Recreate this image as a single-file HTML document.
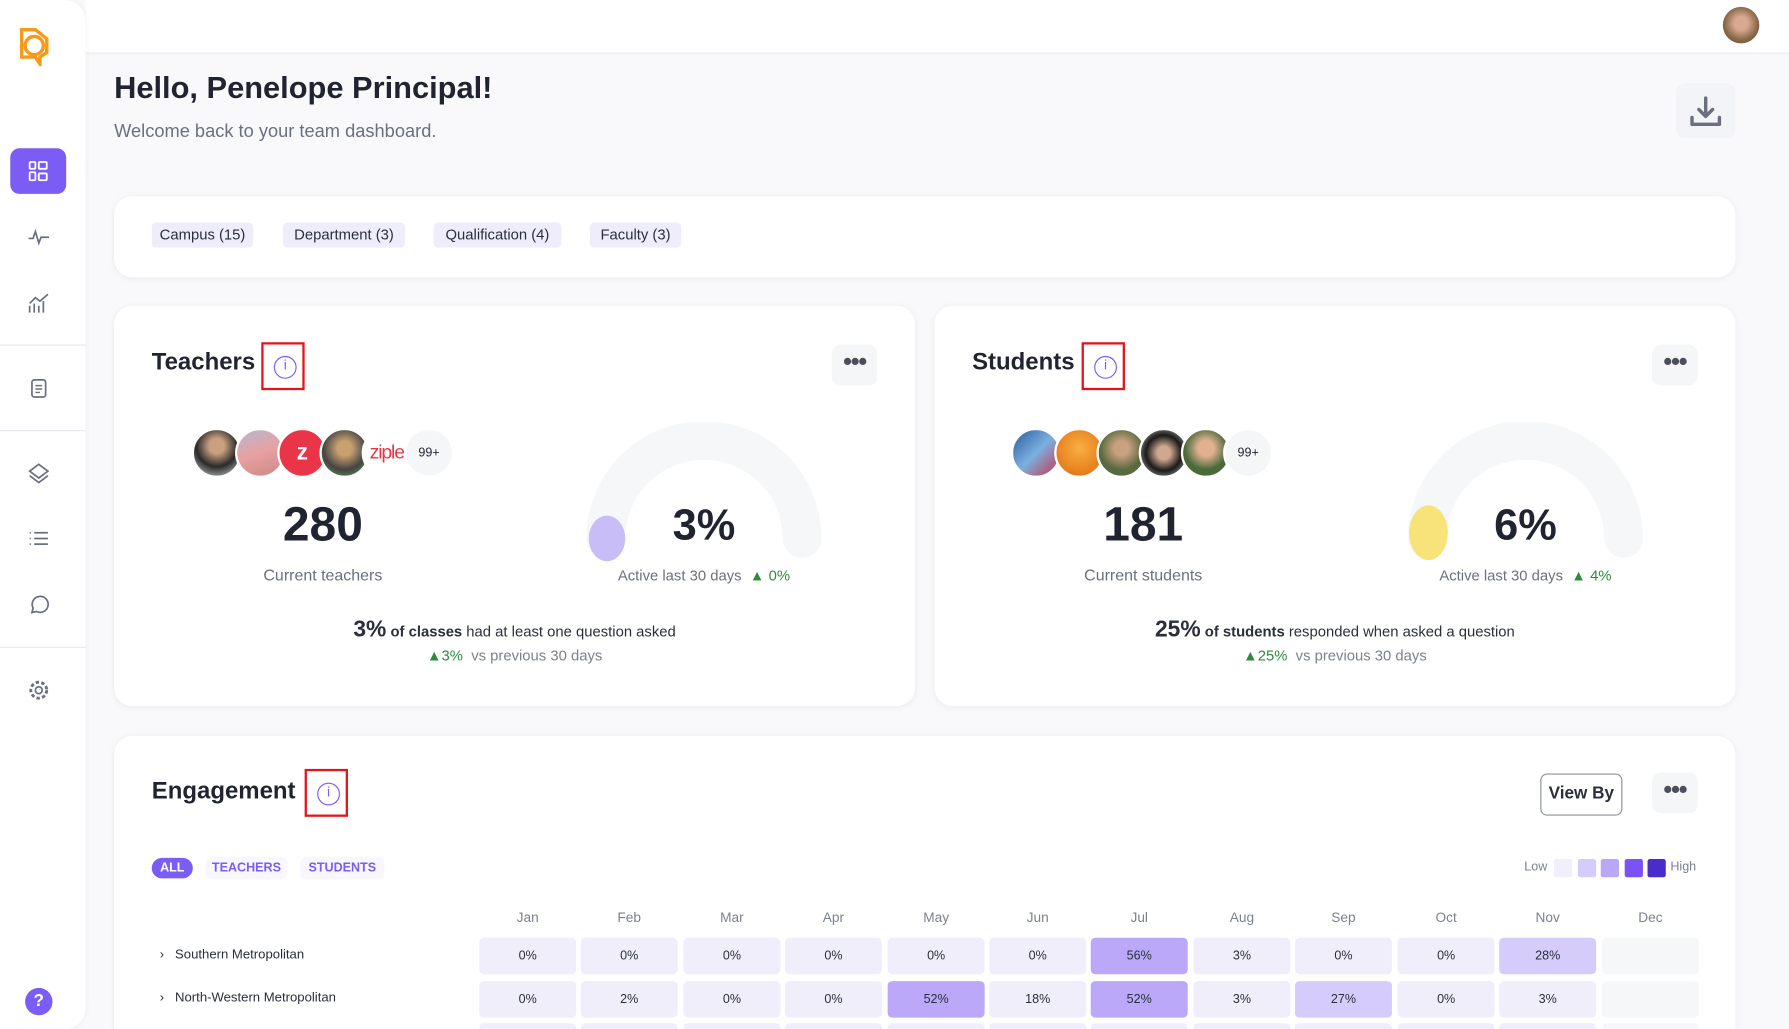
<!DOCTYPE html>
<html><head><meta charset="utf-8"><style>
*{margin:0;padding:0;box-sizing:border-box}
body{width:1789px;height:1029px;overflow:hidden;background:#f9f9fb;font-family:"Liberation Sans",sans-serif;color:#1f2430}
#s{position:absolute;left:0;top:0;width:1568px;height:902px;transform:scale(1.14094,1.1408);transform-origin:0 0;background:#f9f9fb;overflow:hidden}
.a{position:absolute}
.card{position:absolute;background:#fff;border-radius:16px;box-shadow:0 1px 6px rgba(0,0,0,.06)}
.chip{position:absolute;top:195px;height:22px;background:#efedfc;border-radius:4px;font-size:13px;line-height:22px;text-align:center;color:#2a2f3a}
.c{text-align:center}
.t{font-size:21px;font-weight:bold;color:#1f2430}
.info{position:absolute;width:38px;height:42px;border:2px solid #e3141b}
.info:after{content:"i";position:absolute;left:9px;top:10px;width:18px;height:18px;border:1.5px solid #7b5cf5;border-radius:50%;color:#7b5cf5;font-size:12px;line-height:15px;text-align:center}
.dots{position:absolute;width:40px;height:36px;background:#f5f6f8;border-radius:8px;font-size:22px;line-height:30px;text-align:center;color:#4a4f5a;letter-spacing:-1px;font-weight:bold}
.av{position:absolute;width:44px;height:44px;border-radius:50%;border:2px solid #fff}
.g{color:#2e8b3e}
.cell{position:absolute;width:85px;height:32px;border-radius:4px;background:#f1eefc;font-size:11px;line-height:32px;text-align:center;color:#2a2f3a}
.m{position:absolute;top:797px;width:85px;text-align:center;font-size:12px;color:#7c8190}
.ic{position:absolute;left:24px;width:20px;height:20px}
</style></head><body><div id="s">
<div class="a" style="left:75px;top:0;width:1493px;height:47px;background:#fff;border-bottom:1px solid #e6e9ef"></div>
<div class="a" style="left:0;top:0;width:75px;height:902px;background:#fff;border-radius:0 18px 18px 0;box-shadow:1px 0 4px rgba(0,0,0,.04)"></div>
<svg class="a" style="left:15px;top:22px" width="32" height="36" viewBox="0 0 32 36"><path d="M4 4h12l10 8v12l-6 4v6l-4-6H4z" fill="none" stroke="#f59a1a" stroke-width="3"/><circle cx="15" cy="18" r="8" fill="none" stroke="#f59a1a" stroke-width="3"/></svg>
<div class="a" style="left:9px;top:130px;width:49px;height:40px;background:#7b5cf5;border-radius:8px"></div>
<svg class="a" style="left:25px;top:141px" width="17" height="18"><rect x="1" y="1" width="5" height="6" rx="1" fill="none" stroke="#fff" stroke-width="1.6"/><rect x="9" y="1" width="7" height="6" rx="1" fill="none" stroke="#fff" stroke-width="1.6"/><rect x="1" y="10" width="5" height="7" rx="1" fill="none" stroke="#fff" stroke-width="1.6"/><rect x="9" y="11" width="7" height="6" rx="1" fill="none" stroke="#fff" stroke-width="1.6"/></svg>
<svg class="ic" style="top:198px" viewBox="0 0 20 20"><path d="M1 11h4l2-6 3 10 2-5h7" fill="none" stroke="#6b7080" stroke-width="1.5"/></svg>
<svg class="ic" style="top:256px" viewBox="0 0 20 20"><path d="M2 18V12M6 18V10M10 18V12M14 18V8M2 10l5-5 4 3 7-6" fill="none" stroke="#6b7080" stroke-width="1.5"/></svg>
<div class="a" style="left:0;top:302px;width:75px;height:1px;background:#e6e9ef"></div>
<svg class="ic" style="top:330px" viewBox="0 0 20 20"><rect x="4" y="3" width="12" height="15" rx="2" fill="none" stroke="#6b7080" stroke-width="1.5"/><path d="M7 8h6M7 11h6M7 14h4" stroke="#6b7080" stroke-width="1.3"/></svg>
<div class="a" style="left:0;top:377px;width:75px;height:1px;background:#e6e9ef"></div>
<svg class="ic" style="top:405px" viewBox="0 0 20 20"><path d="M10 2l8 6-8 6-8-6zM2 12l8 6 8-6" fill="none" stroke="#6b7080" stroke-width="1.5"/></svg>
<svg class="ic" style="top:462px" viewBox="0 0 20 20"><path d="M6 5h12M6 10h12M6 15h12M2 5h1M2 10h1M2 15h1" stroke="#6b7080" stroke-width="1.5"/></svg>
<svg class="ic" style="top:520px" viewBox="0 0 20 20"><path d="M4 17l1-4a7 7 0 1 1 3 3z" fill="none" stroke="#6b7080" stroke-width="1.5"/></svg>
<div class="a" style="left:0;top:567px;width:75px;height:1px;background:#e6e9ef"></div>
<svg class="ic" style="top:595px" viewBox="0 0 20 20"><circle cx="10" cy="10" r="3" fill="none" stroke="#6b7080" stroke-width="1.5"/><circle cx="10" cy="10" r="7" fill="none" stroke="#6b7080" stroke-width="2.5" stroke-dasharray="3 2"/></svg>
<div class="a c" style="left:22px;top:866px;width:24px;height:24px;border-radius:50%;background:#7b5cf5;color:#fff;font-weight:bold;font-size:15px;line-height:24px">?</div>
<div class="a" style="left:1510px;top:6px;width:32px;height:32px;border-radius:50%;background:radial-gradient(circle at 50% 45%,#d8a890 25%,#8a6a4a 60%,#5a4030)"></div>

<div class="a" style="left:100px;top:62px;font-size:27px;font-weight:bold;color:#1f2430">Hello, Penelope Principal!</div>
<div class="a" style="left:100px;top:107px;font-size:16px;color:#6b7080">Welcome back to your team dashboard.</div>
<div class="a" style="left:1469px;top:73px;width:52px;height:48px;background:#f3f4f7;border-radius:8px"></div>
<svg class="a" style="left:1480px;top:83px" width="30" height="30" viewBox="0 0 30 30"><path d="M15 3v16M9 13l6 6 6-6M3 20v6h24v-6" fill="none" stroke="#6b7080" stroke-width="3" stroke-linecap="round" stroke-linejoin="round"/></svg>

<div class="card" style="left:100px;top:172px;width:1421px;height:71px"></div>
<div class="chip" style="left:133px;width:89px">Campus (15)</div>
<div class="chip" style="left:248px;width:107px">Department (3)</div>
<div class="chip" style="left:380px;width:112px">Qualification (4)</div>
<div class="chip" style="left:517px;width:80px">Faculty (3)</div>

<!-- Teachers -->
<div class="card" style="left:100px;top:268px;width:702px;height:351px"></div>
<div class="a t" style="left:133px;top:306px">Teachers</div>
<div class="info" style="left:229px;top:300px"></div>
<div class="dots" style="left:729px;top:302px">•••</div>
<div class="av" style="left:168px;top:375px;background:radial-gradient(circle at 50% 35%,#c9a080 20%,#2a2a2a 55%,#ddd)"></div>
<div class="av" style="left:206px;top:375px;background:linear-gradient(160deg,#b8b8d0,#e8a0a0,#c88)"></div>
<div class="av c" style="left:243px;top:375px;background:#ea3548;color:#fff;font-weight:bold;font-size:20px;line-height:40px">z</div>
<div class="av" style="left:280px;top:375px;background:radial-gradient(circle at 50% 40%,#c9a070 20%,#444 60%,#6a5)"></div>
<div class="av c" style="left:317px;top:375px;background:#fff;color:#ea3548;font-size:17px;line-height:40px;letter-spacing:-1px">ziple</div>
<div class="av c" style="left:354px;top:375px;background:#f5f6f8;font-size:11px;line-height:40px">99+</div>
<div class="a c" style="left:183px;top:436px;width:200px;font-size:42px;font-weight:bold">280</div>
<div class="a c" style="left:183px;top:496px;width:200px;font-size:14px;color:#6b7080">Current teachers</div>
<svg class="a" style="left:500px;top:370px" width="235" height="130"><path d="M31 102 A86 86 0 0 1 203 102" fill="none" stroke="#f6f7f9" stroke-width="34" stroke-linecap="round"/><ellipse cx="32" cy="102" rx="16" ry="20" fill="#c9bdf8"/></svg>
<div class="a c" style="left:537px;top:440px;width:160px;font-size:38px;font-weight:bold">3%</div>
<div class="a c" style="left:497px;top:497px;width:240px;font-size:13px;color:#6b7080">Active last 30 days &nbsp;<span class="g">▲ 0%</span></div>
<div class="a c" style="left:150px;top:541px;width:602px;font-size:13px;color:#2a2f3a"><b style="font-size:20px">3%</b> <b>of classes</b> had at least one question asked</div>
<div class="a c" style="left:150px;top:567px;width:602px;font-size:13px;color:#7c8190"><span class="g">▲3%</span> &nbsp;vs previous 30 days</div>

<!-- Students -->
<div class="card" style="left:819px;top:268px;width:702px;height:351px"></div>
<div class="a t" style="left:852px;top:306px">Students</div>
<div class="info" style="left:948px;top:300px"></div>
<div class="dots" style="left:1448px;top:302px">•••</div>
<div class="av" style="left:886px;top:375px;background:linear-gradient(135deg,#2a5a9a,#7ab0e0,#c34)"></div>
<div class="av" style="left:924px;top:375px;background:radial-gradient(circle at 50% 40%,#f8b040,#e06810)"></div>
<div class="av" style="left:961px;top:375px;background:radial-gradient(circle at 50% 40%,#c9a080 20%,#5a6a40 60%)"></div>
<div class="av" style="left:998px;top:375px;background:radial-gradient(circle at 50% 50%,#d0a890 20%,#1a1a1a 55%,#ccc)"></div>
<div class="av" style="left:1035px;top:375px;background:radial-gradient(circle at 50% 40%,#e0b090 22%,#4a6a3a 60%)"></div>
<div class="av c" style="left:1072px;top:375px;background:#f5f6f8;font-size:11px;line-height:40px">99+</div>
<div class="a c" style="left:902px;top:436px;width:200px;font-size:42px;font-weight:bold">181</div>
<div class="a c" style="left:902px;top:496px;width:200px;font-size:14px;color:#6b7080">Current students</div>
<svg class="a" style="left:1220px;top:370px" width="235" height="130"><path d="M31 102 A86 86 0 0 1 203 102" fill="none" stroke="#f6f7f9" stroke-width="34" stroke-linecap="round"/><ellipse cx="32" cy="97" rx="17" ry="24" fill="#f8e27a"/></svg>
<div class="a c" style="left:1257px;top:440px;width:160px;font-size:38px;font-weight:bold">6%</div>
<div class="a c" style="left:1217px;top:497px;width:240px;font-size:13px;color:#6b7080">Active last 30 days &nbsp;<span class="g">▲ 4%</span></div>
<div class="a c" style="left:869px;top:541px;width:602px;font-size:13px;color:#2a2f3a"><b style="font-size:20px">25%</b> <b>of students</b> responded when asked a question</div>
<div class="a c" style="left:869px;top:567px;width:602px;font-size:13px;color:#7c8190"><span class="g">▲25%</span> &nbsp;vs previous 30 days</div>

<!-- Engagement -->
<div class="card" style="left:100px;top:645px;width:1421px;height:300px"></div>
<div class="a t" style="left:133px;top:682px">Engagement</div>
<div class="info" style="left:267px;top:674px"></div>
<div class="a c" style="left:1350px;top:678px;width:72px;height:37px;border:1.5px solid #8a8f9a;border-radius:6px;font-size:15px;font-weight:bold;line-height:34px;color:#2a2f3a">View By</div>
<div class="dots" style="left:1448px;top:677px">•••</div>
<div class="a c" style="left:133px;top:752px;width:36px;height:18px;border-radius:9px;background:#7b5cf5;color:#fff;font-size:11px;font-weight:bold;line-height:18px">ALL</div>
<div class="a c" style="left:180px;top:751px;width:72px;height:20px;border-radius:6px;background:#f8f7fe;color:#7b5cf5;font-size:11px;font-weight:bold;line-height:20px">TEACHERS</div>
<div class="a c" style="left:263px;top:751px;width:74px;height:20px;border-radius:6px;background:#f8f7fe;color:#7b5cf5;font-size:11px;font-weight:bold;line-height:20px">STUDENTS</div>
<div class="a" style="left:1336px;top:754px;font-size:11px;color:#7c8190">Low</div>
<div class="a" style="left:1362px;top:753px;width:16px;height:16px;border-radius:2px;background:#f1eefd"></div>
<div class="a" style="left:1383px;top:753px;width:16px;height:16px;border-radius:2px;background:#d6ccfb"></div>
<div class="a" style="left:1403px;top:753px;width:16px;height:16px;border-radius:2px;background:#b9a8f8"></div>
<div class="a" style="left:1424px;top:753px;width:16px;height:16px;border-radius:2px;background:#7b52f5"></div>
<div class="a" style="left:1444px;top:753px;width:16px;height:16px;border-radius:2px;background:#4a2ccc"></div>
<div class="a" style="left:1464px;top:754px;font-size:11px;color:#7c8190">High</div>

<div class="m" style="left:420px">Jan</div><div class="m" style="left:509px">Feb</div><div class="m" style="left:599px">Mar</div><div class="m" style="left:688px">Apr</div><div class="m" style="left:778px">May</div><div class="m" style="left:867px">Jun</div><div class="m" style="left:956px">Jul</div><div class="m" style="left:1046px">Aug</div><div class="m" style="left:1135px">Sep</div><div class="m" style="left:1225px">Oct</div><div class="m" style="left:1314px">Nov</div><div class="m" style="left:1404px">Dec</div>

<div class="a" style="left:140px;top:831px;font-size:11.5px;color:#2a2f3a">›&nbsp;&nbsp; Southern Metropolitan</div>
<div class="a" style="left:140px;top:869px;font-size:11.5px;color:#2a2f3a">›&nbsp;&nbsp; North-Western Metropolitan</div>

<div class="cell" style="left:420px;top:822px">0%</div><div class="cell" style="left:509px;top:822px">0%</div><div class="cell" style="left:599px;top:822px">0%</div><div class="cell" style="left:688px;top:822px">0%</div><div class="cell" style="left:778px;top:822px">0%</div><div class="cell" style="left:867px;top:822px">0%</div><div class="cell" style="left:956px;top:822px;background:#bba8f8">56%</div><div class="cell" style="left:1046px;top:822px">3%</div><div class="cell" style="left:1135px;top:822px">0%</div><div class="cell" style="left:1225px;top:822px">0%</div><div class="cell" style="left:1314px;top:822px;background:#d6ccfb">28%</div><div class="cell" style="left:1404px;top:822px;background:#f6f7f9"></div>

<div class="cell" style="left:420px;top:860px">0%</div><div class="cell" style="left:509px;top:860px">2%</div><div class="cell" style="left:599px;top:860px">0%</div><div class="cell" style="left:688px;top:860px">0%</div><div class="cell" style="left:778px;top:860px;background:#bba8f8">52%</div><div class="cell" style="left:867px;top:860px">18%</div><div class="cell" style="left:956px;top:860px;background:#bba8f8">52%</div><div class="cell" style="left:1046px;top:860px">3%</div><div class="cell" style="left:1135px;top:860px;background:#d6ccfb">27%</div><div class="cell" style="left:1225px;top:860px">0%</div><div class="cell" style="left:1314px;top:860px">3%</div><div class="cell" style="left:1404px;top:860px;background:#f6f7f9"></div>

<div class="cell" style="left:420px;top:897px"></div><div class="cell" style="left:509px;top:897px"></div><div class="cell" style="left:599px;top:897px"></div><div class="cell" style="left:688px;top:897px"></div><div class="cell" style="left:778px;top:897px"></div><div class="cell" style="left:867px;top:897px"></div><div class="cell" style="left:956px;top:897px"></div><div class="cell" style="left:1046px;top:897px"></div><div class="cell" style="left:1135px;top:897px"></div><div class="cell" style="left:1225px;top:897px"></div><div class="cell" style="left:1314px;top:897px"></div><div class="cell" style="left:1404px;top:897px;background:#f6f7f9"></div>
</div></body></html>
